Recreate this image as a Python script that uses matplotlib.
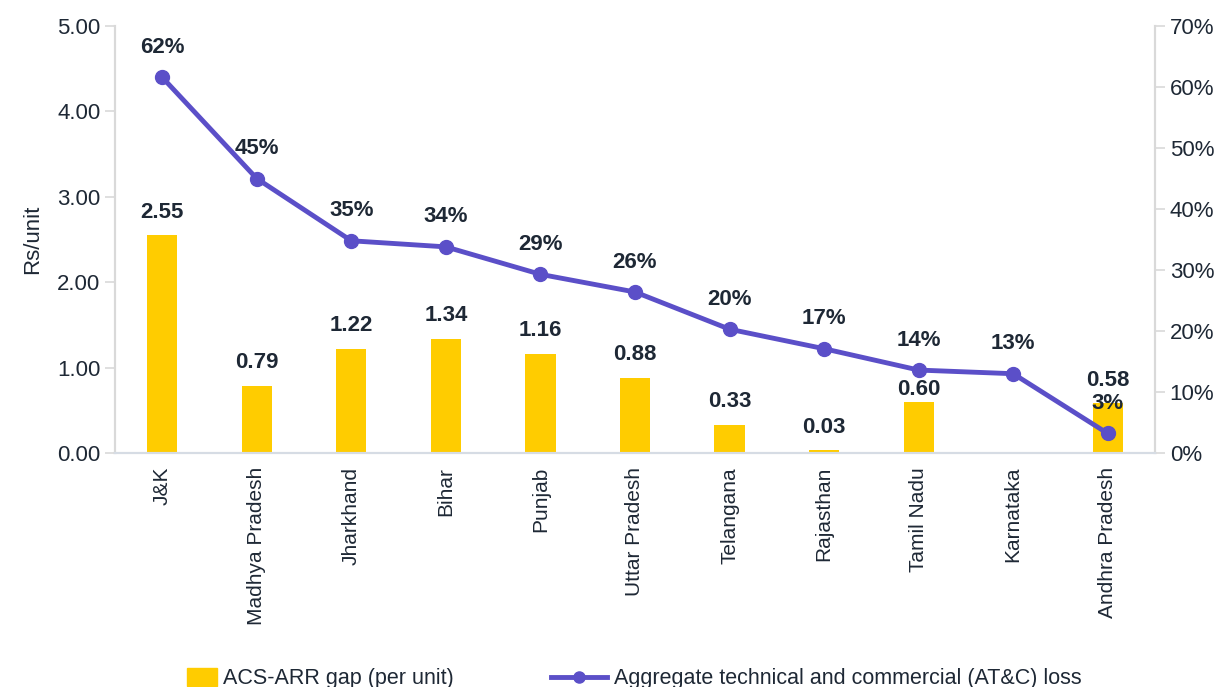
import numpy as np
import matplotlib
matplotlib.use('Agg')
import matplotlib.pyplot as plt
from matplotlib.lines import Line2D
from matplotlib.patches import Patch

plt.rcParams['font.family'] = ['Liberation Sans', 'DejaVu Sans']

# === 데이터 ===
states = ['J&K', 'Madhya Pradesh', 'Jharkhand', 'Bihar', 'Punjab', 'Uttar Pradesh',
          'Telangana', 'Rajasthan', 'Tamil Nadu', 'Karnataka', 'Andhra Pradesh']
gap = [2.55, 0.79, 1.22, 1.34, 1.16, 0.88, 0.33, 0.03, 0.60, np.nan, 0.58]
gap_labels = ['2.55', '0.79', '1.22', '1.34', '1.16', '0.88', '0.33', '0.03', '0.60', '', '0.58']
atc_loss = [62, 45, 35, 34, 29, 26, 20, 17, 14, 13, 3]
atc_real = [61.6, 45.0, 34.8, 33.8, 29.3, 26.4, 20.3, 17.1, 13.6, 13.0, 3.2]

BAR_C = '#FFCC00'
LINE_C = '#5B4FC8'
TXT_C = '#1E2835'
AX_C = '#D9D9D9'

fig = plt.figure(figsize=(12.28, 6.87), dpi=100)
ax = fig.add_axes([0.0936, 0.3406, 0.8470, 0.6214])
ax2 = ax.twinx()

x = np.arange(len(states))
ax.bar(x, gap, width=0.32, color=BAR_C, zorder=2)
ax.set_xlim(-0.5, len(states) - 0.5)
ax.set_ylim(0, 5)
ax.set_yticks(np.arange(0, 5.01, 1))
ax.set_yticklabels([f'{v:.2f}' for v in np.arange(0, 5.01, 1)])
ax.set_ylabel('Rs/unit', fontsize=16, color=TXT_C, labelpad=10)
ax.set_xticks(x)
ax.set_xticklabels(states, rotation=90, fontsize=15, color=TXT_C)

ax2.plot(x, atc_real, color=LINE_C, lw=3.5, marker='o', ms=10, zorder=3)
ax2.set_ylim(0, 70)
ax2.set_yticks(np.arange(0, 71, 10))
ax2.set_yticklabels([f'{v}%' for v in range(0, 71, 10)])

# 막대 값 라벨 (Tamil Nadu는 선과 겹치지 않게 아래로)
for i, (v, lab) in enumerate(zip(gap, gap_labels)):
    if lab:
        dy = 1 if states[i] == 'Tamil Nadu' else 9
        ax2.annotate(lab, (i, v), xycoords=ax.transData, xytext=(0, dy),
                     textcoords='offset points', ha='center', va='bottom',
                     fontsize=16, fontweight='bold', color=TXT_C, zorder=5)
for i, (v, p) in enumerate(zip(atc_real, atc_loss)):
    ax2.annotate(f'{p}%', (i, v), xytext=(0, 14), textcoords='offset points',
                 ha='center', va='bottom', fontsize=16, fontweight='bold', color=TXT_C, zorder=5)

for a in (ax, ax2):
    a.spines['top'].set_visible(False)
    a.spines['left'].set_color(AX_C)
    a.spines['right'].set_color(AX_C)
    a.spines['bottom'].set_color('#D6DCE4')
    for s in ('left', 'right', 'bottom'):
        a.spines[s].set_linewidth(1.5)
    a.tick_params(axis='y', labelsize=16, colors=TXT_C, length=7, width=1.2, color=AX_C)
ax.tick_params(axis='x', length=0, pad=10)
ax.set_zorder(ax2.get_zorder() - 1)
ax2.patch.set_visible(False)

leg1 = fig.legend([Patch(color=BAR_C)], ['ACS-ARR gap (per unit)'], loc='center left',
                  bbox_to_anchor=(0.152, 0.012), frameon=False, fontsize=15.5,
                  handlelength=1.4, handleheight=0.9, handletextpad=0.3, labelcolor=TXT_C,
                  borderpad=0, borderaxespad=0)
leg2 = fig.legend([Line2D([], [], color=LINE_C, lw=3.5, marker='o', ms=8)],
                  ['Aggregate technical and commercial (AT&C) loss'], loc='center left',
                  bbox_to_anchor=(0.449, 0.012), frameon=False, fontsize=15.5,
                  handlelength=2.6, handletextpad=0.3, labelcolor=TXT_C,
                  borderpad=0, borderaxespad=0)

plt.savefig('out.png', dpi=100)
plt.close()
